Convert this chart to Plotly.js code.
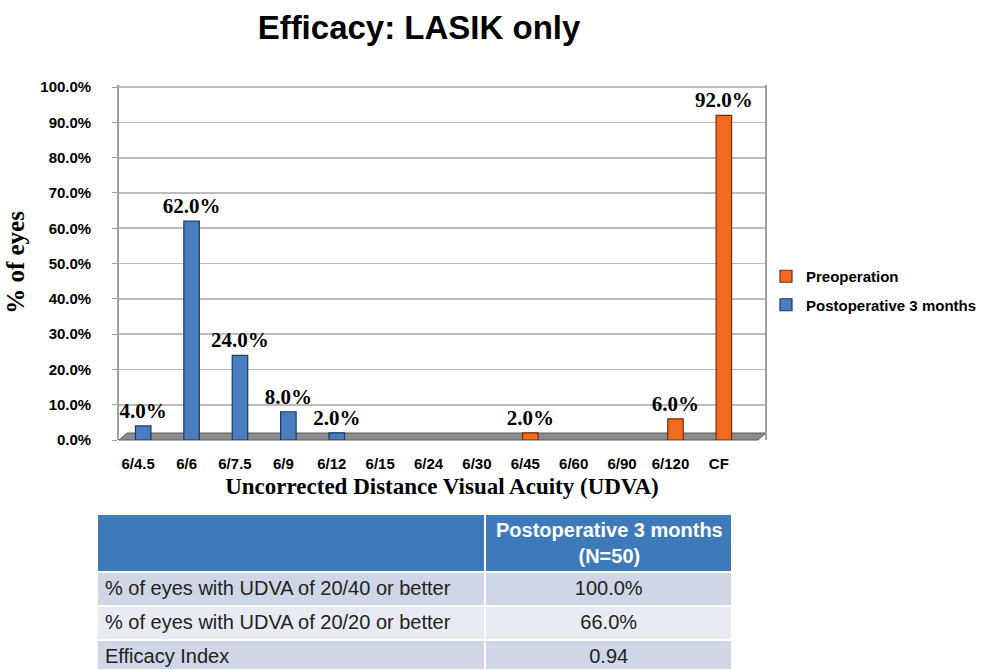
<!DOCTYPE html>
<html>
<head>
<meta charset="utf-8">
<script src="https://cdn.plot.ly/plotly-3.0.1.min.js"></script>
<style>html,body{margin:0;padding:0;background:#fff;}#chart{width:984px;height:670px;}</style>
</head>
<body>
<div id="chart"></div>
<script>
const categories = ['6/4.5','6/6','6/7.5','6/9','6/12','6/15','6/24','6/30','6/45','6/60','6/90','6/120','CF'];
const preoperation = [0,0,0,0,0,0,0,0,2,0,0,6,92];
const postoperative = [4,62,24,8,2,0,0,0,0,0,0,0,0];
const yTicks = [0,10,20,30,40,50,60,70,80,90,100];
const tableHeader = ['', 'Postoperative 3 months<br>(N=50)'];
const tableRowLabels = ['% of eyes with UDVA of 20/40 or better','% of eyes with UDVA of 20/20 or better','Efficacy Index'];
const tableValues = ['100.0%','66.0%','0.94'];

const W = 984, H = 670;
const px = x => x / W, py = y => 1 - y / H;
const lbl = arr => arr.map(v => v > 0 ? v.toFixed(1) + '%' : '');
const nz = arr => arr.map(v => v > 0 ? v : null);

const labelFont = {family: 'Liberation Serif, Times New Roman, serif', size: 21, color: '#000', weight: 'bold'};
const sansBold = {family: 'Liberation Sans, Arial, sans-serif', size: 15, color: '#000', weight: 'bold'};

const traces = [
  {
    type: 'bar', name: 'Preoperation', x: categories, y: nz(preoperation), legendgroup: 'a',
    text: lbl(preoperation), textposition: 'outside', cliponaxis: false, constraintext: 'none',
    textfont: labelFont,
    marker: {color: '#f26a1f', line: {color: '#7a2c06', width: 1.2}},
    width: 0.32
  },
  {
    type: 'bar', name: 'Postoperative 3 months', x: categories, y: nz(postoperative), legendgroup: 'b',
    text: lbl(postoperative), textposition: 'outside', cliponaxis: false, constraintext: 'none',
    textfont: labelFont,
    marker: {color: '#4a7dc0', line: {color: '#1c3a66', width: 1.2}},
    width: 0.32
  },
  {
    type: 'table',
    domain: {x: [px(97), px(733)], y: [0, py(514)]},
    columnwidth: [389, 247],
    header: {
      values: ['', ''],
      fill: {color: '#3e7ab9'},
      line: {color: '#ffffff', width: 2},
      align: 'center',
      height: 58,
      font: {family: 'Liberation Sans, Arial, sans-serif', size: 20, color: '#ffffff', weight: 'bold'}
    },
    cells: {
      values: [tableRowLabels, tableValues],
      fill: {color: [['#cfd6e5','#e8ebf2','#cfd6e5']]},
      line: {color: '#ffffff', width: 2},
      align: ['left','center'],
      height: 34,
      font: {family: 'Liberation Sans, Arial, sans-serif', size: 20, color: '#222'}
    }
  }
];

const layout = {
  width: W, height: H,
  margin: {l: 0, r: 0, t: 0, b: 0},
  paper_bgcolor: '#ffffff', plot_bgcolor: '#ffffff',
  barmode: 'overlay',
  showlegend: true,
  title: {
    text: 'Efficacy: LASIK only',
    x: px(419), xanchor: 'center', y: py(27), yanchor: 'middle',
    font: {family: 'Liberation Sans, Arial, sans-serif', size: 33, color: '#000', weight: 'bold'}
  },
  xaxis: {
    domain: [px(119), px(765)],
    range: [-0.5, 12.85],
    type: 'category',
    showgrid: false, zeroline: false, showline: false,
    ticks: '', ticklabelstandoff: 13, ticklabelshift: -5,
    tickfont: sansBold,
    title: {
      text: 'Uncorrected Distance Visual Acuity (UDVA)',
      font: {family: 'Liberation Serif, Times New Roman, serif', size: 23, color: '#000', weight: 'bold'},
      standoff: 6
    },
    fixedrange: true
  },
  yaxis: {
    domain: [py(440), py(85)],
    range: [0, 100.6],
    tickvals: yTicks,
    ticktext: yTicks.map(v => v.toFixed(1) + '%'),
    showgrid: true, gridcolor: '#bcbcbc', gridwidth: 1.8,
    zeroline: false,
    showline: true, linecolor: '#a0a0a0', linewidth: 1.8, mirror: true,
    ticks: 'outside', ticklen: 5, tickcolor: '#a0a0a0',
    ticklabelstandoff: 18,
    tickfont: sansBold,
    title: {
      text: '% of eyes',
      font: {family: 'Liberation Serif, Times New Roman, serif', size: 25, color: '#000', weight: 'bold'},
      standoff: 8
    },
    fixedrange: true
  },
  legend: {
    x: px(766), xanchor: 'left', y: py(260), yanchor: 'top',
    traceorder: 'grouped',
    font: sansBold,
    itemwidth: 30, tracegroupgap: 6,
    bgcolor: 'rgba(0,0,0,0)'
  },
  annotations: [
    {
      xref: 'paper', yref: 'paper',
      x: px(609), y: py(543), xanchor: 'center', yanchor: 'middle',
      text: tableHeader[1], align: 'center', showarrow: false,
      font: {family: 'Liberation Sans, Arial, sans-serif', size: 20, color: '#ffffff', weight: 'bold'}
    }
  ],
  shapes: [
    {
      type: 'path', xref: 'paper', yref: 'paper',
      path: 'M ' + px(119) + ' ' + py(440) + ' L ' + px(758) + ' ' + py(440) +
            ' L ' + px(766) + ' ' + py(433) + ' L ' + px(127) + ' ' + py(433) + ' Z',
      fillcolor: '#8c8c8c', line: {color: '#5a5a5a', width: 1}, layer: 'below'
    }
  ]
};

Plotly.newPlot('chart', traces, layout, {displayModeBar: false, staticPlot: true});
</script>
</body>
</html>
